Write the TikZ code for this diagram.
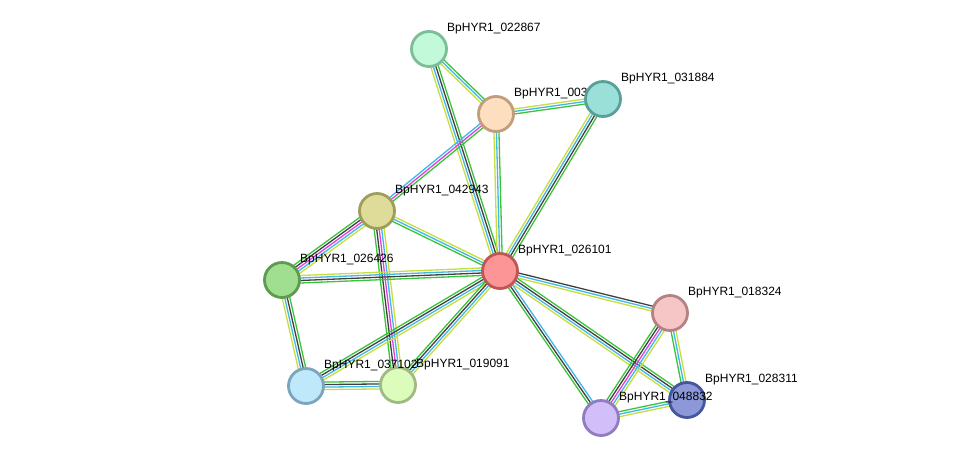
\documentclass[tikz,border=0pt]{standalone}
\usepackage{fontspec}
\setmainfont{Liberation Sans}
\usetikzlibrary{calc}
\pgfdeclarelayer{bg}
\pgfsetlayers{bg,main}
\definecolor{sg}{RGB}{58,196,58}
\definecolor{sc}{RGB}{64,184,232}
\definecolor{sd}{RGB}{64,64,64}
\definecolor{sy}{RGB}{200,222,60}
\definecolor{sm}{RGB}{224,64,224}
\definecolor{fa}{RGB}{194,249,216}\definecolor{da}{RGB}{124,190,152}
\definecolor{fb}{RGB}{253,223,192}\definecolor{db}{RGB}{190,158,124}
\definecolor{fc}{RGB}{154,224,216}\definecolor{dc}{RGB}{88,160,152}
\definecolor{fd}{RGB}{222,220,152}\definecolor{dd}{RGB}{158,158,92}
\definecolor{fe}{RGB}{252,150,150}\definecolor{de}{RGB}{190,86,86}
\definecolor{ff}{RGB}{160,223,143}\definecolor{df}{RGB}{94,154,80}
\definecolor{fg}{RGB}{246,198,198}\definecolor{dg}{RGB}{180,130,130}
\definecolor{fh}{RGB}{140,152,216}\definecolor{dh}{RGB}{70,86,156}
\definecolor{fi}{RGB}{210,190,248}\definecolor{di}{RGB}{144,124,190}
\definecolor{fk}{RGB}{220,252,188}\definecolor{dk}{RGB}{160,186,132}
\definecolor{fj}{RGB}{192,232,251}\definecolor{dj}{RGB}{124,164,190}
\tikzset{
  prot/.style={circle, inner sep=0pt, minimum size=35pt, line width=2.8pt},
  lab/.style={anchor=west, inner sep=0pt, font=\fontsize{12}{12}\selectfont},
}
\newcommand\edg[3]{%
  \foreach \cc [count=\i] in {#3} {\xdef\nn{\i}}%
  \foreach \cc [count=\i] in {#3} {%
    \pgfmathsetmacro\off{(\i-(\nn+1)/2)*2.5}%
    \draw[line width=1.3pt, \cc] ($(#1)!\off pt!90:(#2)$) -- ($(#2)!\off pt!-90:(#1)$);
  }}
\newcommand\prot[5]{% name, x, y, fill, draw
  \node[prot, fill=#4, draw=#5] (#1) at (#2,#3) {};}
\newcommand\lbl[3]{% node, text, name
  \node[lab] (#3) at ($(#1)+(18,-20)$) {#2};}
\begin{document}
\begin{tikzpicture}[x=1pt,y=-1pt]
\begin{pgfonlayer}{bg}
\useasboundingbox[fill=white] (0,0) rectangle (976,464);
\end{pgfonlayer}
\prot{a}{429}{49}{fa}{da}
\lbl{a}{BpHYR1\_022867}{la}
\prot{b}{496}{114}{fb}{db}
\lbl{b}{BpHYR1\_003}{lb}
\prot{c}{603}{99}{fc}{dc}
\lbl{c}{BpHYR1\_031884}{lc}
\prot{d}{377}{211}{fd}{dd}
\lbl{d}{BpHYR1\_042943}{ld}
\prot{e}{500}{271}{fe}{de}
\lbl{e}{BpHYR1\_026101}{le}
\prot{f}{282}{280}{ff}{df}
\lbl{f}{BpHYR1\_026426}{lf}
\prot{g}{670}{313}{fg}{dg}
\lbl{g}{BpHYR1\_018324}{lg}
\prot{h}{687}{400}{fh}{dh}
\lbl{h}{BpHYR1\_028311}{lh}
\prot{i}{601}{418}{fi}{di}
\lbl{i}{BpHYR1\_048832}{li}
\prot{k}{398}{385}{fk}{dk}
\lbl{k}{BpHYR1\_019091}{lk}
\prot{j}{306}{386}{fj}{dj}
\lbl{j}{BpHYR1\_037102}{lj}
\begin{pgfonlayer}{bg}
\edg{a}{b}{sy,sc,sg}
\edg{a}{e}{sy,sc,sd,sg}
\edg{b}{c}{sg,sc,sy}
\edg{b}{e}{sy,sc,sg}
\edg{b}{d}{sc,sm,sg}
\edg{c}{e}{sy,sc,sd,sg}
\edg{d}{e}{sg,sc,sy}
\edg{d}{f}{sg,sd,sm,sc,sy}
\edg{d}{k}{sg,sd,sm,sc,sy}
\edg{f}{e}{sg,sd,sc,sy}
\edg{f}{j}{sy,sc,sd,sg}
\edg{e}{j}{sg,sd,sc,sy}
\edg{e}{k}{sg,sd,sc,sy}
\edg{j}{k}{sy,sc,sd,sg}
\edg{e}{g}{sy,sc,sd}
\edg{e}{h}{sy,sc,sd,sg}
\edg{e}{i}{sg,sd,sc}
\edg{g}{i}{sg,sd,sm,sc,sy}
\edg{g}{h}{sg,sc,sy}
\edg{i}{h}{sy,sc,sg}
\end{pgfonlayer}
\end{tikzpicture}
\end{document}
